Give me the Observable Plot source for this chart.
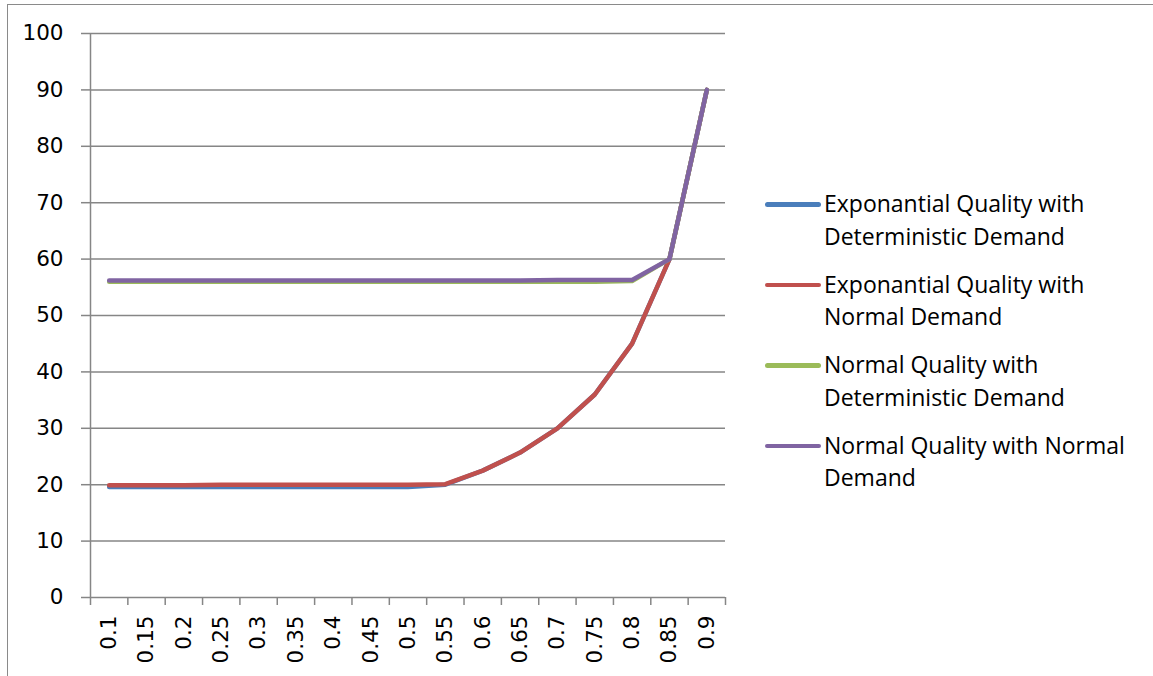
<!DOCTYPE html>
<html>
<head>
<meta charset="utf-8">
<script src="https://cdn.jsdelivr.net/npm/d3@7"></script>
<script src="https://cdn.jsdelivr.net/npm/@observablehq/plot@0.6"></script>
<style>
  body { margin: 0; background: #fff; font-family: "Open Sans", sans-serif; }
  #wrap { position: relative; width: 1153px; height: 676px; overflow: hidden; }
  #frame { position: absolute; left: 7px; top: 4px; width: 1200px; height: 700px;
           border-left: 1.5px solid #8a8a8a; border-top: 1.5px solid #8a8a8a; }
  #chart { position: absolute; left: 0; top: 0; }
  #legend { position: absolute; left: 765px; top: 188px; }
  .item { position: relative; height: 80.5px; }
  .sw { position: absolute; left: 0; top: 14px; width: 56px; height: 4.5px; border-radius: 3px; }
  .lbl { position: absolute; left: 59px; top: -1px; font-family: "Open Sans", sans-serif; font-size: 23px; line-height: 32.5px; color: #000; white-space: nowrap; }
</style>
</head>
<body>
<div id="wrap">
  <div id="frame"></div>
  <div id="chart"></div>
  <div id="legend"></div>
</div>
<script>
const categories = [0.1, 0.15, 0.2, 0.25, 0.3, 0.35, 0.4, 0.45, 0.5, 0.55, 0.6, 0.65, 0.7, 0.75, 0.8, 0.85, 0.9];
const tickLabels = ["0.1","0.15","0.2","0.25","0.3","0.35","0.4","0.45","0.5","0.55","0.6","0.65","0.7","0.75","0.8","0.85","0.9"];
const seriesNames = [
  "Exponantial Quality with Deterministic Demand",
  "Exponantial Quality with Normal Demand",
  "Normal Quality with Deterministic Demand",
  "Normal Quality with Normal Demand"
];
const legendLines = [
  ["Exponantial Quality with", "Deterministic Demand"],
  ["Exponantial Quality with", "Normal Demand"],
  ["Normal Quality with", "Deterministic Demand"],
  ["Normal Quality with Normal", "Demand"]
];
const colors = ["#4a7ebb", "#c0504d", "#9bbb59", "#8064a2"];
const expDet  = [19.6, 19.6, 19.6, 19.6, 19.6, 19.6, 19.6, 19.6, 19.6, 20.0, 22.5, 25.7, 30.0, 36.0, 45.0, 60.0, 90.0];
const expNorm = [19.9, 19.9, 19.9, 20.0, 20.0, 20.0, 20.0, 20.0, 20.0, 20.1, 22.5, 25.7, 30.0, 36.0, 45.0, 60.0, 90.0];
const normDet = [56.0, 56.0, 56.0, 56.0, 56.0, 56.0, 56.0, 56.0, 56.0, 56.0, 56.0, 56.0, 56.0, 56.0, 56.1, 60.0, 90.0];
const normNorm= [56.2, 56.2, 56.2, 56.2, 56.2, 56.2, 56.2, 56.2, 56.2, 56.2, 56.2, 56.2, 56.3, 56.3, 56.3, 60.0, 90.0];
const yTicks = [0, 10, 20, 30, 40, 50, 60, 70, 80, 90, 100];

const allSeries = [expDet, expNorm, normDet, normNorm];
const data = allSeries.flatMap((vals, s) => vals.map((v, i) => ({x: categories[i], y: v, s: seriesNames[s]})));
const step = categories[1] - categories[0];
const boundaries = [...categories.map(c => c - step / 2), categories[categories.length - 1] + step / 2];

const grey = "#868686";
const tickFont = "'DejaVu Sans', sans-serif";
const plot = Plot.plot({
  width: 1153,
  height: 676,
  marginLeft: 90,
  marginRight: 428,
  marginTop: 33,
  marginBottom: 79,
  style: {fontFamily: tickFont, fontSize: "21.5px", color: "#000", background: "transparent"},
  x: {type: "linear", domain: [boundaries[0], boundaries[boundaries.length - 1]]},
  y: {domain: [0, 100]},
  color: {domain: seriesNames, range: colors},
  marks: [
    Plot.ruleY(yTicks.filter(t => t > 0), {stroke: grey, strokeWidth: 1.5}),
    Plot.axisY({ticks: yTicks, tickSize: 9, tickPadding: 18, stroke: grey, strokeWidth: 1.5, label: null, fontSize: 21.5}),
    Plot.axisX({ticks: boundaries, tickSize: 8, tickFormat: () => "", stroke: grey, strokeWidth: 1.5, label: null}),
    Plot.axisX({ticks: categories, tickSize: 0, tickPadding: 18, tickRotate: -90, tickFormat: (d, i) => tickLabels[i], label: null, fontSize: 21.5}),
    Plot.ruleX([boundaries[0]], {stroke: grey, strokeWidth: 1.5}),
    Plot.ruleY([0], {stroke: grey, strokeWidth: 1.5}),
    Plot.line(data, {x: "x", y: "y", z: "s", stroke: "s", strokeWidth: 4.5, strokeLinecap: "round", strokeLinejoin: "round"})
  ]
});
document.getElementById("chart").appendChild(plot);

const legend = document.getElementById("legend");
legendLines.forEach((lines, i) => {
  const item = document.createElement("div");
  item.className = "item";
  const sw = document.createElement("div");
  sw.className = "sw";
  sw.style.background = colors[i];
  const lbl = document.createElement("div");
  lbl.className = "lbl";
  lbl.innerHTML = lines.join("<br>");
  item.appendChild(sw);
  item.appendChild(lbl);
  legend.appendChild(item);
});
</script>
</body>
</html>
